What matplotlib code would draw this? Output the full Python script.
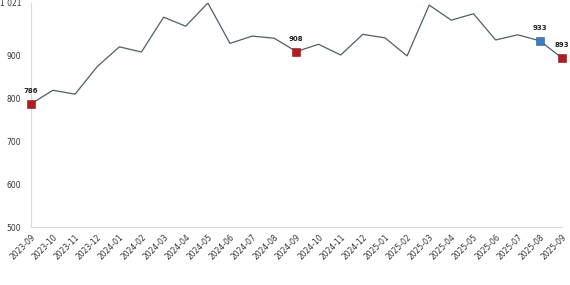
import matplotlib
matplotlib.use('Agg')
import matplotlib.pyplot as plt
import matplotlib.transforms as mtransforms

months = ['2023-09', '2023-10', '2023-11', '2023-12', '2024-01', '2024-02', '2024-03',
          '2024-04', '2024-05', '2024-06', '2024-07', '2024-08', '2024-09', '2024-10',
          '2024-11', '2024-12', '2025-01', '2025-02', '2025-03', '2025-04', '2025-05',
          '2025-06', '2025-07', '2025-08', '2025-09']
values = [786, 818, 809, 873, 919, 907, 988, 967, 1021, 927, 944, 939, 908, 925,
          900, 948, 940, 898, 1016, 981, 996, 935, 947, 933, 893]
red_points = [0, 12, 24]
blue_points = [23]
y_ticks = [500, 600, 700, 800, 900, 1021]
y_tick_labels = ['500', '600', '700', '800', '900', '1 021']

fig = plt.figure(figsize=(5.7, 2.85), dpi=100)
ax = fig.add_axes([0.054, 0.2035, 0.932, 0.786])
x = list(range(len(months)))
ax.plot(x, values, color='#4d5e6b', linewidth=0.9)


def mark(points, face, edge):
    for i in points:
        ax.plot(i, values[i], marker='s', markersize=6, color=face,
                markeredgecolor=edge, markeredgewidth=0.4, clip_on=False, zorder=3)
        ax.annotate(str(values[i]), (i, values[i]), xytext=(0, 7), textcoords='offset points',
                    ha='center', va='bottom', fontsize=5, color='#222222', fontweight='semibold')


mark(red_points, '#b01c22', '#8a1418')
mark(blue_points, '#3a7dbd', '#2c5f91')

ax.set_xlim(0, len(months) - 1)
ax.set_ylim(500, 1021)
ax.set_yticks(y_ticks)
ax.set_yticklabels(y_tick_labels)
ax.set_xticks(x)
ax.set_xticklabels(months, rotation=45, ha='right', rotation_mode='anchor')
ax.tick_params(axis='both', length=0, labelcolor='#333333')
ax.tick_params(axis='x', labelsize=5.5, pad=4)
ax.tick_params(axis='y', labelsize=5.5, pad=7)

# keep the top label inside the figure
top_label = ax.get_yticklabels()[-1]
top_label.set_va('top')
top_label.set_transform(top_label.get_transform() +
                        mtransforms.ScaledTranslation(0, 3 / 72, fig.dpi_scale_trans))

for side in ['top', 'right']:
    ax.spines[side].set_visible(False)
for side in ['left', 'bottom']:
    ax.spines[side].set_color('#d9d9d9')
    ax.spines[side].set_linewidth(0.8)

plt.savefig('out.png', dpi=100)
plt.close()
